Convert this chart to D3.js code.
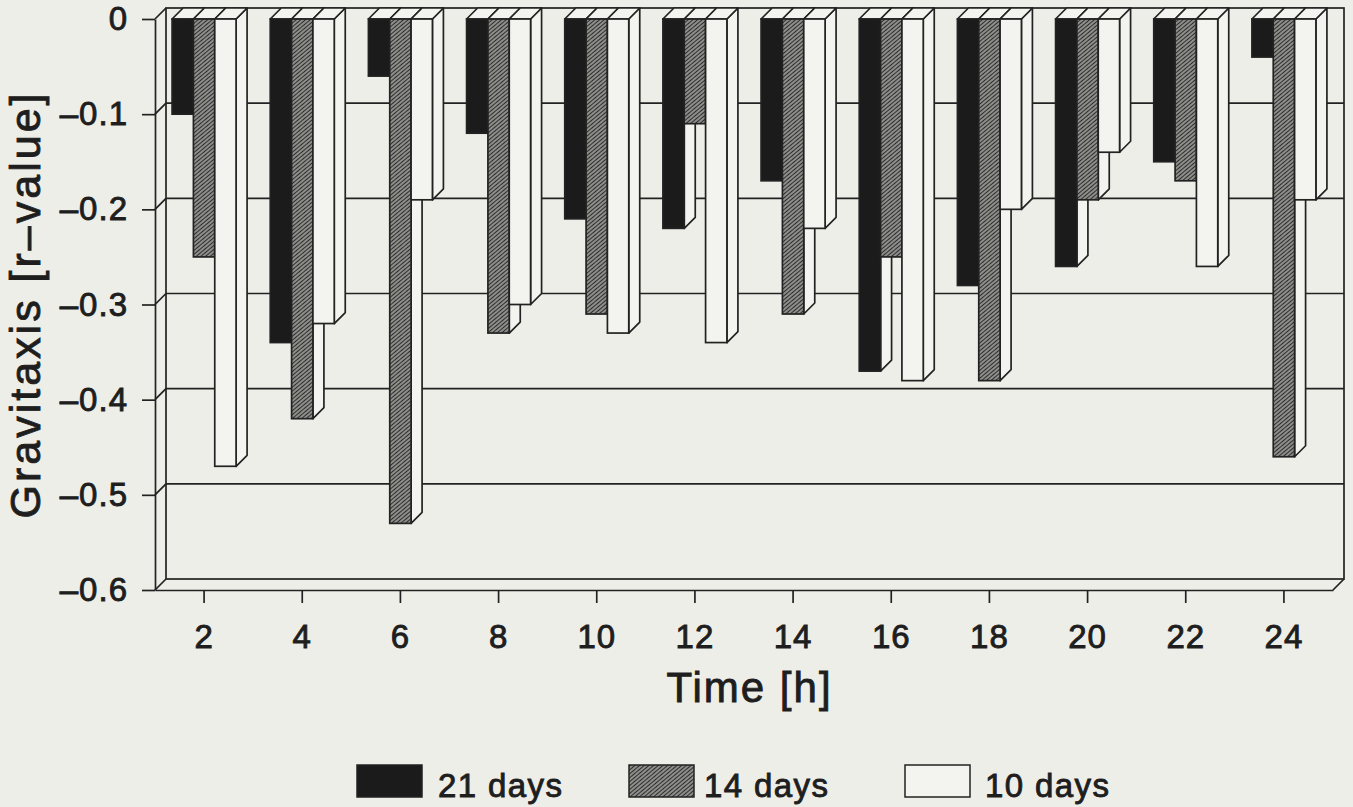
<!DOCTYPE html>
<html>
<head>
<meta charset="utf-8">
<script src="https://cdn.jsdelivr.net/npm/d3@7"></script>
<style>
  html, body { margin: 0; padding: 0; background: #eeeee9; }
  svg { display: block; }
  text { font-family: "Liberation Sans", Arial, sans-serif; font-weight: normal; fill: #1e1e1e; stroke: #1e1e1e; stroke-width: 0.9px; }
</style>
</head>
<body>
<svg id="chart" width="1353" height="807"></svg>
<script>
// Gravitaxis (r-value) of cultures of different age, sampled every 2 h
const hours = ["2", "4", "6", "8", "10", "12", "14", "16", "18", "20", "22", "24"];
const days21 = [-0.10, -0.34, -0.06, -0.12, -0.21, -0.22, -0.17, -0.37, -0.28, -0.26, -0.15, -0.04];
const days14 = [-0.25, -0.42, -0.53, -0.33, -0.31, -0.11, -0.31, -0.25, -0.38, -0.19, -0.17, -0.46];
const days10 = [-0.47, -0.32, -0.19, -0.30, -0.33, -0.34, -0.22, -0.38, -0.20, -0.14, -0.26, -0.19];
const seriesNames = ["21 days", "14 days", "10 days"];
const yTicks = [0, -0.1, -0.2, -0.3, -0.4, -0.5, -0.6];

const series = [days21, days14, days10];

const svg = d3.select("#chart");
const LINE = "#222";
const BG = "#eeeee9";
const FILL = ["#1b1b1b", "url(#hatch)", "#f3f3ef"];

// depth of the pseudo-3D box (offset of the back plane)
const DX = 11, DY = 11;

// fine diagonal hatching for the 14-day series
const defs = svg.append("defs");
const pat = defs.append("pattern")
  .attr("id", "hatch").attr("patternUnits", "userSpaceOnUse")
  .attr("width", 3).attr("height", 3)
  .attr("patternTransform", "rotate(-40)");
pat.append("rect").attr("width", 3).attr("height", 3).attr("fill", "#a6a6a2");
pat.append("line").attr("x1", 0).attr("y1", 1.5).attr("x2", 3).attr("y2", 1.5)
  .attr("stroke", "#2e2e2e").attr("stroke-width", 1.4);

const x = d3.scaleBand().domain(hours).range([155, 1333]);
const inner = d3.scaleBand().domain(seriesNames).range([0, 64]);
const groupOffset = (x.bandwidth() - 64) / 2;
const y = d3.scaleLinear().domain([-0.6, 0]).range([590, 19]);

const [x0, x1] = x.range();
const yTop = y(0), yBot = y(-0.6);
const SW = 1.7;

// back wall with grid lines
const wall = svg.append("g");
wall.append("rect")
  .attr("x", x0 + DX).attr("y", yTop - DY)
  .attr("width", x1 - x0).attr("height", yBot - yTop)
  .attr("fill", BG).attr("stroke", LINE).attr("stroke-width", SW);
wall.selectAll("line.grid").data(yTicks).join("line")
  .attr("class", "grid")
  .attr("x1", x0).attr("y1", d => y(d))
  .attr("x2", x0 + DX).attr("y2", d => y(d) - DY)
  .attr("stroke", LINE).attr("stroke-width", SW);
wall.selectAll("line.gridh").data(yTicks.filter(d => d !== 0 && d !== -0.6)).join("line")
  .attr("class", "gridh")
  .attr("x1", x0 + DX).attr("y1", d => y(d) - DY)
  .attr("x2", x1 + DX).attr("y2", d => y(d) - DY)
  .attr("stroke", LINE).attr("stroke-width", SW);
// floor right edge
wall.append("line")
  .attr("x1", x1).attr("y1", yBot).attr("x2", x1 + DX).attr("y2", yBot - DY)
  .attr("stroke", LINE).attr("stroke-width", SW);

// bars: each one is side face + top face + front face, drawn left to right
const bars = svg.append("g");
hours.forEach((h, i) => {
  series.forEach((vals, s) => {
    const v = vals[i];
    const bx = x(h) + groupOffset + inner(seriesNames[s]);
    const bw = inner.bandwidth();
    const yv = y(v);
    const g = bars.append("g");
    g.append("path")
      .attr("d", d3.line()([[bx + bw, yTop], [bx + bw + DX, yTop - DY], [bx + bw + DX, yv - DY], [bx + bw, yv]]) + "Z")
      .attr("fill", "#f3f3ef").attr("stroke", LINE).attr("stroke-width", SW).attr("stroke-linejoin", "round");
    g.append("path")
      .attr("d", d3.line()([[bx, yTop], [bx + DX, yTop - DY], [bx + bw + DX, yTop - DY], [bx + bw, yTop]]) + "Z")
      .attr("fill", "#f3f3ef").attr("stroke", LINE).attr("stroke-width", SW).attr("stroke-linejoin", "round");
    g.append("rect")
      .attr("x", bx).attr("y", yTop).attr("width", bw).attr("height", yv - yTop)
      .attr("fill", FILL[s]).attr("stroke", LINE).attr("stroke-width", SW);
  });
});

// front axes
const fmt = d => d === 0 ? "0" : "\u2013" + Math.abs(d).toFixed(1);
const yAxis = svg.append("g").attr("transform", `translate(${x0},0)`)
  .call(d3.axisLeft(y).tickValues(yTicks).tickFormat(fmt).tickSize(13).tickSizeOuter(0).tickPadding(14));
const xAxis = svg.append("g").attr("transform", `translate(0,${yBot})`)
  .call(d3.axisBottom(x).tickSize(13).tickSizeOuter(0).tickPadding(22));
[yAxis, xAxis].forEach(a => {
  a.select(".domain").attr("stroke", LINE).attr("stroke-width", SW);
  a.selectAll(".tick line").attr("stroke", LINE).attr("stroke-width", SW);
  a.selectAll(".tick text")
    .style("font-size", "33px")
    .style("font-family", "'Liberation Sans', Arial, sans-serif")
    .style("letter-spacing", "1px")
    .attr("fill", "#1e1e1e")
    .attr("stroke", "#1e1e1e").attr("stroke-width", 0.9);
});

// axis titles
svg.append("text")
  .attr("transform", `translate(40,${(yTop + yBot) / 2}) rotate(-90)`)
  .attr("text-anchor", "middle").style("font-size", "43px").style("letter-spacing", "3px")
  .text("Gravitaxis [r\u2013value]");
svg.append("text")
  .attr("x", (x0 + x1 + DX) / 2).attr("y", 702)
  .attr("text-anchor", "middle").style("font-size", "42px").style("letter-spacing", "2px")
  .text("Time [h]");

// legend
const legX = [357, 629, 905];
const legTextX = [438, 704, 985];
const legend = svg.append("g");
seriesNames.forEach((name, s) => {
  legend.append("rect")
    .attr("x", legX[s]).attr("y", 765).attr("width", 65).attr("height", 32)
    .attr("fill", FILL[s]).attr("stroke", LINE).attr("stroke-width", 1.5);
  legend.append("text")
    .attr("x", legTextX[s]).attr("y", 797)
    .style("font-size", "33px").style("letter-spacing", "1.4px")
    .text(name);
});
</script>
</body>
</html>
